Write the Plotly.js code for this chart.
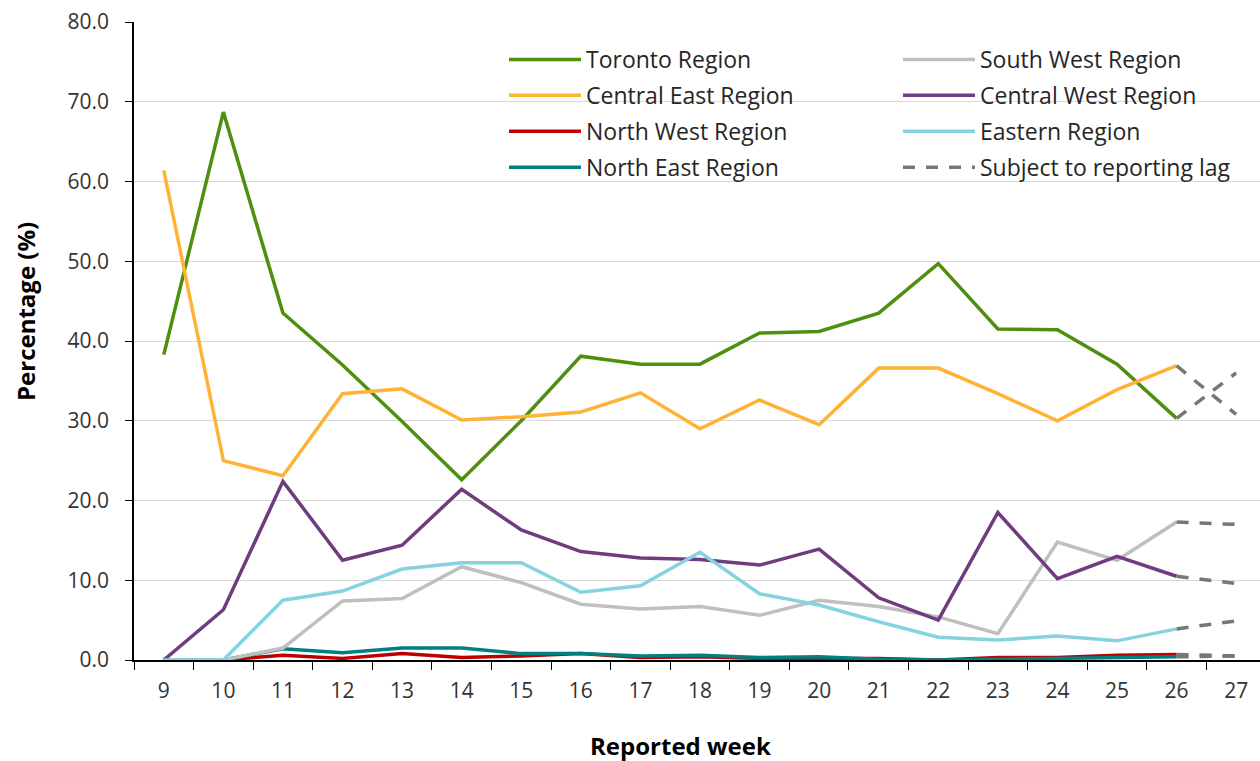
<!DOCTYPE html>
<html>
<head>
<meta charset="utf-8">
<script src="https://cdn.plot.ly/plotly-3.0.1.min.js"></script>
<style>html,body{margin:0;padding:0;background:#fff;overflow:hidden}#chart{width:1260px;height:761px}</style>
</head>
<body>
<div id="chart"></div>
<script>
// ---- data ----
const allWeeks = ['9','10','11','12','13','14','15','16','17','18','19','20','21','22','23','24','25','26','27'];
const weeks = ['9','10','11','12','13','14','15','16','17','18','19','20','21','22','23','24','25','26'];
const lagWeeks = ['26','27'];

const toronto     = [38.3, 68.7, 43.5, 37.0, 29.9, 22.6, 30.0, 38.1, 37.1, 37.1, 41.0, 41.2, 43.5, 49.7, 41.5, 41.4, 37.1, 30.3];
const centralEast = [61.4, 25.0, 23.1, 33.4, 34.0, 30.1, 30.5, 31.1, 33.5, 29.0, 32.6, 29.5, 36.6, 36.6, 33.4, 30.0, 33.9, 36.9];
const northWest   = [0.0, 0.0, 0.6, 0.2, 0.8, 0.3, 0.5, 0.8, 0.3, 0.4, 0.2, 0.2, 0.2, 0.0, 0.3, 0.3, 0.6, 0.7];
const northEast   = [0.0, 0.0, 1.4, 0.9, 1.5, 1.5, 0.8, 0.8, 0.5, 0.6, 0.3, 0.4, 0.1, 0.0, 0.1, 0.2, 0.4, 0.4];
const southWest   = [0.0, 0.0, 1.5, 7.4, 7.7, 11.7, 9.7, 7.0, 6.4, 6.7, 5.6, 7.5, 6.7, 5.4, 3.3, 14.8, 12.5, 17.3];
const centralWest = [0.0, 6.3, 22.4, 12.5, 14.4, 21.4, 16.3, 13.6, 12.8, 12.6, 11.9, 13.9, 7.8, 5.0, 18.5, 10.2, 13.0, 10.5];
const eastern     = [0.0, 0.0, 7.5, 8.65, 11.4, 12.2, 12.2, 8.5, 9.3, 13.5, 8.3, 6.9, 4.8, 2.85, 2.5, 3.0, 2.4, 3.9];

// week 27 values (subject to reporting lag), in the order of regionNames
const regionNames = ['Toronto Region','Central East Region','North West Region','North East Region','South West Region','Central West Region','Eastern Region'];
const lagWeek27   = [36.0, 30.8, 0.5, 0.5, 17.0, 9.6, 4.9];
const lagLabel = 'Subject to reporting lag';

// ---- styles ----
const seriesData = [toronto, centralEast, northWest, northEast, southWest, centralWest, eastern];
const colors = ['#4f8f0f', '#ffb233', '#c00000', '#008080', '#bfbfbf', '#6f3c7f', '#86d3df'];
const legendIds = ['legend', 'legend', 'legend', 'legend', 'legend2', 'legend2', 'legend2'];
const lagColor = '#777777';

const traces = [];
seriesData.forEach((vals, i) => {
  traces.push({
    type: 'scatter', mode: 'lines',
    x: weeks, y: vals,
    name: regionNames[i],
    legend: legendIds[i],
    legendgroup: 'g' + i,
    line: {color: colors[i], width: 3.5},
    hoverinfo: 'x+y+name'
  });
});
seriesData.forEach((vals, i) => {
  traces.push({
    type: 'scatter', mode: 'lines',
    x: lagWeeks, y: [vals[vals.length - 1], lagWeek27[i]],
    name: lagLabel,
    legend: 'legend2',
    showlegend: i === 0,
    legendgroup: 'lag',
    line: {color: lagColor, width: 3.5, dash: '12px,11px'},
    hoverinfo: 'x+y'
  });
});

const font = 'Open Sans, Liberation Sans, Arial, sans-serif';
const plotL = 134, plotR = 1260, plotT = 22, plotB = 660;
const pw = plotR - plotL, ph = plotB - plotT;
const px = v => (v - plotL) / pw;   // page x -> paper x
const py = v => (plotB - v) / ph;   // page y -> paper y

const legendBase = {
  orientation: 'v',
  xanchor: 'left', yanchor: 'top',
  y: py(38),
  bgcolor: 'rgba(0,0,0,0)', borderwidth: 0,
  itemwidth: 72,
  font: {family: font, size: 23, color: '#262626'},
  traceorder: 'grouped',
  tracegroupgap: 3
};

const layout = {
  width: 1260, height: 761,
  margin: {l: plotL, r: 1260 - plotR, t: plotT, b: 761 - plotB, pad: 0},
  paper_bgcolor: '#ffffff', plot_bgcolor: '#ffffff',
  font: {family: font, size: 21, color: '#404040'},
  showlegend: true,
  xaxis: {
    type: 'category', categoryorder: 'array', categoryarray: allWeeks,
    range: [-0.5, 18.4], tickson: 'boundaries',
    ticks: 'outside', ticklen: 8, tickcolor: '#000', tickwidth: 1,
    showline: true, linecolor: '#000', linewidth: 1.5,
    showgrid: false, zeroline: false,
    tickfont: {family: font, size: 21, color: '#333333'},
    ticklabelstandoff: 11,
    fixedrange: true
  },
  yaxis: {
    range: [0, 80], dtick: 10, tick0: 0, tickformat: '.1f',
    ticks: 'outside', ticklen: 7, tickcolor: '#000', tickwidth: 1,
    showline: true, linecolor: '#000', linewidth: 1.5,
    showgrid: true, gridcolor: '#d9d9d9', gridwidth: 1, zeroline: false,
    tickfont: {family: font, size: 21, color: '#333333'},
    ticklabelstandoff: 12,
    fixedrange: true
  },
  legend: Object.assign({}, legendBase, {x: px(504)}),
  legend2: Object.assign({}, legendBase, {x: px(898)}),
  shapes: [
    { // white legend background hiding the gridlines behind the legend
      type: 'rect', xref: 'paper', yref: 'paper', layer: 'between',
      x0: px(473), x1: 1, y0: py(195), y1: py(30),
      fillcolor: '#ffffff', line: {width: 0}
    }
  ],
  annotations: [
    {
      text: '<b>Percentage (%)</b>', textangle: -90,
      xref: 'paper', yref: 'paper',
      x: px(25), y: py(312),
      xanchor: 'center', yanchor: 'middle', showarrow: false,
      font: {family: font, size: 24, color: '#000000'}
    },
    {
      text: '<b>Reported week</b>',
      xref: 'paper', yref: 'paper',
      x: px(680), y: py(745),
      xanchor: 'center', yanchor: 'middle', showarrow: false,
      font: {family: font, size: 24, color: '#000000'}
    }
  ],
  hovermode: 'closest'
};

Plotly.newPlot('chart', traces, layout, {displayModeBar: false, staticPlot: false, responsive: false});
</script>
</body>
</html>
